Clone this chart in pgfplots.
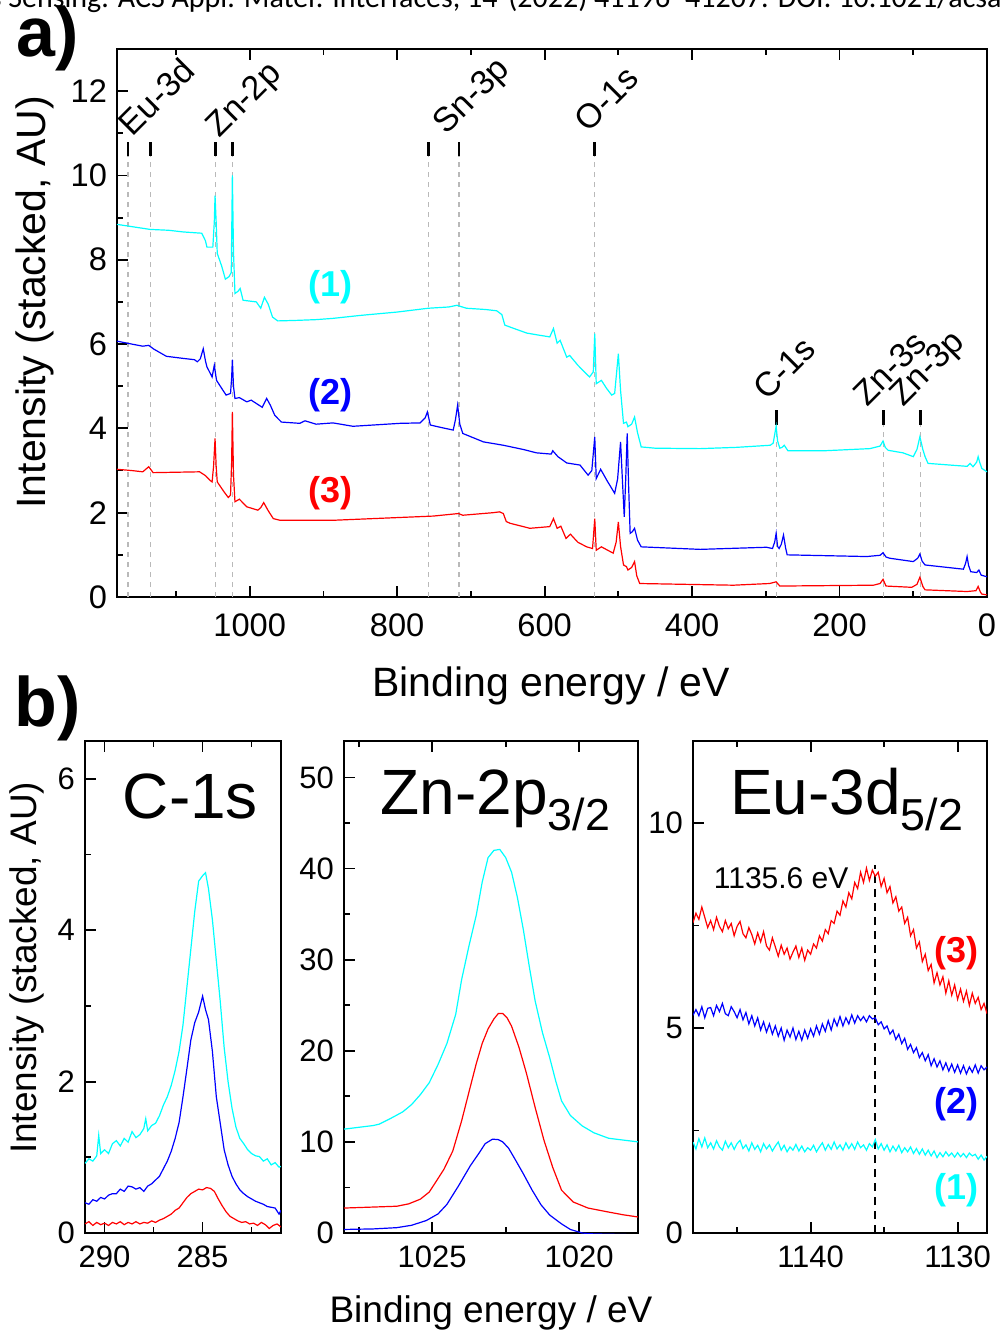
\documentclass[border=0pt]{standalone}
\usepackage{pgfplots}
\pgfplotsset{compat=1.18}
\usepackage{fontspec}
\setmainfont{Liberation Sans}
\newfontfamily\cit{Carlito}
\definecolor{cyn}{RGB}{0,255,255}
\definecolor{blu}{RGB}{0,0,255}
\definecolor{rd}{RGB}{255,0,0}

\pgfplotstableread{
x y
1180 8.84
1165 8.80
1150 8.76
1135 8.72
1110 8.70
1090 8.66
1065 8.63
1060 8.45
1058 8.30
1050 8.30
1048 8.9
1047 9.52
1045.5 8.9
1044 8.15
1038 7.85
1033 7.54
1028 7.6
1025 7.7
1023.5 10.0
1022 8.2
1020 7.2
1016 7.25
1013 7.32
1009 7.04
1000 7.02
991 7.0
985 6.85
980 7.11
975 6.95
969 6.64
962 6.55
940 6.56
910 6.58
887 6.61
850 6.68
800 6.76
758 6.85
730 6.88
719 6.92
706 6.85
680 6.82
665 6.79
658 6.70
654 6.45
640 6.36
624 6.26
607 6.21
593 6.17
588 6.37
583 6.02
579 6.09
570 5.69
566 5.73
555 5.50
545 5.32
539 5.22
534 5.34
532 6.25
530 5.06
523 5.14
516 4.95
509 4.79
505 4.83
500 5.77
497 4.9
493 4.12
489 4.15
487 4.04
482 4.1
478 4.27
474 3.9
469 3.56
450 3.53
389 3.52
340 3.55
294 3.60
290 3.65
287.5 3.9
286 4.05
284 3.7
281 3.53
278 3.55
275 3.60
270 3.47
220 3.47
159 3.52
145 3.58
141 3.70
138 3.55
134 3.48
114 3.42
100 3.33
95 3.5
91 3.80
87 3.5
84 3.33
80 3.17
50 3.13
27 3.10
23 3.17
19 3.09
14 3.2
12 3.33
10 3.2
7 3.05
0 2.97
}\surveyA

\pgfplotstableread{
x y
1180 6.07
1160 6.00
1145 5.95
1137 5.97
1130 5.88
1113 5.71
1090 5.66
1075 5.63
1071 5.58
1067 5.65
1063 5.89
1060 5.6
1058 5.46
1051 5.22
1048 5.50
1045 5.14
1038 4.95
1032 4.79
1026 4.83
1024.5 5.2
1023.5 5.63
1022 5.0
1020 4.71
1014 4.73
1004 4.63
998 4.67
990 4.58
983 4.50
977 4.71
972 4.55
966 4.31
957 4.15
932 4.12
925 4.18
910 4.10
887 4.13
860 4.05
796 4.12
769 4.13
762 4.25
759 4.39
755 4.08
740 4.02
724 3.96
721 4.2
718 4.55
715 4.1
711 3.88
683 3.68
656 3.60
629 3.50
611 3.42
591 3.39
589 3.47
582 3.33
570 3.18
552 3.13
541 2.89
536 3.0
532 3.80
530 2.81
524 3.03
515 2.75
505 2.46
501 2.8
497 3.68
494 2.6
492 1.90
490 2.8
488 3.88
486 2.6
484 1.51
481 1.55
478 1.63
474 1.35
469 1.19
389 1.13
299 1.18
291 1.15
288 1.3
286 1.51
284 1.2
282 1.15
279 1.25
276 1.47
273 1.15
271 1.00
163 0.96
145 0.99
141 1.05
137 0.95
132 0.92
100 0.84
94 0.92
91 1.02
88 0.85
84 0.76
32 0.66
29 0.8
27 0.96
25 0.75
22 0.60
14 0.58
11 0.64
8 0.52
0 0.48
}\surveyB

\pgfplotstableread{
x y
1180 3.03
1160 3.0
1145 2.97
1137 3.09
1131 2.95
1100 2.96
1068 2.97
1060 2.88
1054 2.77
1051 2.73
1049 3.1
1047 3.76
1045.5 3.1
1044 2.73
1035 2.50
1029 2.36
1026 2.42
1024.5 3.2
1023.5 4.39
1022 2.9
1020 2.26
1014 2.32
1004 2.14
989 2.06
985 2.12
981 2.24
975 2.05
968 1.86
959 1.82
887 1.82
751 1.92
717 1.98
711 1.94
670 2.0
661 2.02
656 1.98
652 1.79
647 1.75
620 1.63
593 1.67
588 1.86
583 1.63
578 1.68
571 1.39
565 1.49
555 1.3
543 1.19
535 1.15
532 1.86
530 1.11
523 1.19
507 1.04
503 1.3
500 1.78
497 1.2
493 0.76
489 0.72
487 0.64
482 0.7
478 0.84
475 0.5
471 0.32
344 0.28
295 0.32
286 0.36
281 0.26
154 0.28
145 0.32
141 0.42
137 0.26
102 0.23
95 0.3
91 0.47
87 0.25
84 0.17
27 0.13
15 0.15
12 0.25
9 0.12
7 0.07
0 0.05
}\surveyC

\pgfplotstableread{
x y
291.0 0.92
290.8 0.98
290.6 0.95
290.4 1.02
290.3 1.29
290.2 1.05
290.0 1.10
289.8 1.05
289.6 1.18
289.4 1.22
289.2 1.15
289.0 1.25
288.8 1.20
288.6 1.34
288.4 1.26
288.2 1.30
288.0 1.38
287.9 1.51
287.8 1.35
287.6 1.42
287.4 1.45
287.2 1.55
287.0 1.69
286.8 1.80
286.6 1.95
286.4 2.15
286.2 2.40
286.0 2.75
285.8 3.25
285.6 3.75
285.4 4.25
285.2 4.65
285.0 4.72
284.85 4.76
284.7 4.55
284.5 4.14
284.3 3.60
284.1 3.06
283.9 2.45
283.7 2.00
283.5 1.65
283.3 1.40
283.1 1.25
282.9 1.18
282.7 1.10
282.5 1.05
282.3 1.02
282.1 1.01
281.9 0.95
281.7 0.98
281.5 0.90
281.3 0.93
281.1 0.87
281.0 0.88
}\cA

\pgfplotstableread{
x y
291.0 0.40
290.8 0.38
290.6 0.44
290.4 0.42
290.2 0.47
290.0 0.45
289.8 0.50
289.6 0.52
289.4 0.52
289.2 0.58
289.0 0.55
288.8 0.62
288.6 0.61
288.4 0.58
288.2 0.60
288.0 0.55
287.8 0.62
287.6 0.65
287.4 0.70
287.2 0.75
287.0 0.85
286.8 0.95
286.6 1.08
286.4 1.25
286.2 1.46
286.0 1.80
285.8 2.17
285.6 2.55
285.4 2.78
285.2 2.92
285.0 3.13
284.85 2.95
284.7 2.82
284.5 2.40
284.3 1.80
284.1 1.45
283.9 1.10
283.7 0.90
283.5 0.75
283.3 0.65
283.1 0.57
282.9 0.52
282.7 0.48
282.5 0.45
282.3 0.42
282.1 0.40
281.9 0.38
281.7 0.35
281.5 0.34
281.3 0.33
281.1 0.25
281.0 0.30
}\cB

\pgfplotstableread{
x y
291.0 0.12
290.8 0.15
290.6 0.10
290.4 0.14
290.2 0.11
290.0 0.13
289.8 0.10
289.6 0.14
289.4 0.12
289.2 0.15
289.0 0.11
288.8 0.14
288.6 0.12
288.4 0.15
288.2 0.12
288.0 0.14
287.8 0.13
287.6 0.16
287.4 0.14
287.2 0.17
287.0 0.19
286.8 0.22
286.6 0.25
286.4 0.30
286.2 0.33
286.0 0.40
285.8 0.47
285.6 0.52
285.4 0.55
285.2 0.58
285.0 0.57
284.8 0.60
284.6 0.59
284.4 0.55
284.2 0.45
284.0 0.36
283.8 0.28
283.6 0.22
283.4 0.19
283.2 0.16
283.0 0.14
282.8 0.15
282.6 0.12
282.4 0.13
282.2 0.10
282.0 0.14
281.8 0.11
281.6 0.06
281.4 0.10
281.2 0.12
281.0 0.08
}\cC

\pgfplotstableread{
x y
1028.0 11.4
1027.5 11.6
1027.0 11.8
1026.8 11.95
1026.4 12.6
1026.0 13.3
1025.7 14.1
1025.4 15.2
1025.1 16.5
1024.8 18.5
1024.5 20.8
1024.2 24.0
1024.0 27.8
1023.75 31.5
1023.5 34.9
1023.3 38.5
1023.1 41.2
1022.9 42.0
1022.7 42.1
1022.5 41.2
1022.3 39.6
1022.1 36.8
1021.9 33.3
1021.7 29.3
1021.5 25.5
1021.25 22.0
1021.0 19.2
1020.8 16.7
1020.6 14.5
1020.3 12.9
1019.9 11.76
1019.5 11.0
1019.0 10.4
1018.5 10.2
1018.0 10.0
}\zA

\pgfplotstableread{
x y
1028.0 2.74
1027.0 2.85
1026.2 2.94
1025.8 3.2
1025.4 3.72
1025.1 4.5
1024.9 5.49
1024.6 7.0
1024.3 9.0
1024.0 12.3
1023.7 16.1
1023.5 18.6
1023.3 20.8
1023.1 22.4
1022.9 23.5
1022.75 24.1
1022.6 24.1
1022.45 23.6
1022.3 22.7
1022.05 20.4
1021.8 17.6
1021.5 13.8
1021.2 10.2
1020.9 7.2
1020.6 4.7
1020.2 3.4
1019.7 2.74
1019.0 2.3
1018.5 2.0
1018.0 1.76
}\zC

\pgfplotstableread{
x y
1028.0 0.39
1027.0 0.45
1026.2 0.59
1025.7 0.85
1025.2 1.37
1024.8 2.1
1024.5 3.14
1024.1 5.2
1023.7 7.4
1023.4 8.8
1023.2 9.8
1022.95 10.3
1022.75 10.25
1022.6 10.0
1022.4 9.3
1022.2 8.2
1021.9 6.5
1021.6 4.7
1021.3 3.1
1021.0 1.96
1020.6 1.0
1020.3 0.39
1019.9 0.0
1019.5 -0.1
1018.0 -0.2
}\zB

\pgfplotstableread{
x y
1148.0 7.57
1147.8 7.80
1147.6 7.65
1147.4 7.95
1147.2 7.70
1147.0 7.45
1146.8 7.62
1146.6 7.40
1146.4 7.70
1146.2 7.48
1146.0 7.35
1145.8 7.62
1145.6 7.42
1145.4 7.55
1145.2 7.25
1145.0 7.48
1144.8 7.60
1144.6 7.30
1144.4 7.20
1144.2 7.45
1144.0 7.28
1143.8 7.05
1143.6 7.32
1143.4 7.10
1143.2 7.35
1143.0 7.00
1142.8 6.90
1142.6 7.20
1142.4 6.98
1142.2 6.75
1142.0 7.02
1141.8 6.80
1141.6 6.95
1141.4 6.68
1141.2 6.85
1141.0 7.00
1140.8 6.72
1140.6 6.95
1140.4 6.65
1140.2 6.90
1140.0 6.80
1139.8 7.05
1139.6 6.95
1139.4 7.25
1139.2 7.12
1139.0 7.40
1138.8 7.30
1138.6 7.62
1138.4 7.55
1138.2 7.85
1138.0 7.75
1137.8 8.10
1137.6 7.95
1137.4 8.30
1137.2 8.15
1137.0 8.55
1136.8 8.40
1136.6 8.80
1136.4 8.55
1136.2 8.90
1136.0 8.60
1135.8 8.85
1135.6 8.70
1135.4 8.80
1135.2 8.45
1135.0 8.65
1134.8 8.30
1134.6 8.45
1134.4 8.05
1134.2 8.20
1134.0 7.85
1133.8 7.95
1133.6 7.55
1133.4 7.70
1133.2 7.25
1133.0 7.40
1132.8 6.95
1132.6 7.10
1132.4 6.62
1132.2 6.80
1132.0 6.40
1131.8 6.55
1131.6 6.10
1131.4 6.35
1131.2 6.05
1131.0 6.25
1130.8 5.85
1130.6 6.15
1130.4 5.80
1130.2 6.05
1130.0 5.70
1129.8 5.95
1129.6 5.65
1129.4 5.90
1129.2 5.55
1129.0 5.85
1128.8 5.60
1128.6 5.75
1128.4 5.45
1128.2 5.60
1128.0 5.35
}\eC

\pgfplotstableread{
x y
1148.0 5.31
1147.8 5.45
1147.6 5.30
1147.4 5.52
1147.2 5.25
1147.0 5.48
1146.8 5.50
1146.6 5.30
1146.4 5.55
1146.2 5.40
1146.0 5.60
1145.8 5.35
1145.6 5.30
1145.4 5.52
1145.2 5.40
1145.0 5.25
1144.8 5.45
1144.6 5.20
1144.4 5.38
1144.2 5.10
1144.0 5.30
1143.8 5.05
1143.6 5.25
1143.4 4.95
1143.2 5.15
1143.0 4.90
1142.8 5.10
1142.6 4.85
1142.4 5.05
1142.2 4.80
1142.0 5.00
1141.8 4.70
1141.6 4.95
1141.4 4.78
1141.2 5.00
1141.0 4.72
1140.8 4.92
1140.6 4.70
1140.4 4.95
1140.2 4.75
1140.0 4.98
1139.8 4.80
1139.6 5.05
1139.4 4.85
1139.2 5.10
1139.0 4.92
1138.8 5.18
1138.6 4.95
1138.4 5.22
1138.2 5.05
1138.0 5.28
1137.8 5.05
1137.6 5.25
1137.4 5.10
1137.2 5.32
1137.0 5.12
1136.8 5.30
1136.6 5.18
1136.4 5.28
1136.2 5.15
1136.0 5.30
1135.8 5.22
1135.6 5.25
1135.4 5.08
1135.2 5.15
1135.0 4.98
1134.8 5.05
1134.6 4.85
1134.4 4.95
1134.2 4.72
1134.0 4.85
1133.8 4.62
1133.6 4.75
1133.4 4.48
1133.2 4.60
1133.0 4.40
1132.8 4.52
1132.6 4.28
1132.4 4.40
1132.2 4.20
1132.0 4.35
1131.8 4.08
1131.6 4.25
1131.4 4.05
1131.2 4.20
1131.0 3.98
1130.8 4.15
1130.6 3.95
1130.4 4.12
1130.2 3.92
1130.0 4.10
1129.8 3.90
1129.6 4.08
1129.4 3.88
1129.2 4.05
1129.0 3.92
1128.8 4.10
1128.6 3.90
1128.4 4.08
1128.2 3.98
1128.0 4.05
}\eB

\pgfplotstableread{
x y
1148.0 2.22
1147.8 2.05
1147.6 2.30
1147.4 2.10
1147.2 2.32
1147.0 2.08
1146.8 2.20
1146.6 2.05
1146.4 2.25
1146.2 2.10
1146.0 2.02
1145.8 2.24
1145.6 2.08
1145.4 2.20
1145.2 2.04
1145.0 2.18
1144.8 2.26
1144.6 2.06
1144.4 2.15
1144.2 2.00
1144.0 2.20
1143.8 2.04
1143.6 2.14
1143.4 1.98
1143.2 2.18
1143.0 2.05
1142.8 2.15
1142.6 2.00
1142.4 2.12
1142.2 2.22
1142.0 2.02
1141.8 2.14
1141.6 1.98
1141.4 2.10
1141.2 2.02
1141.0 2.16
1140.8 2.00
1140.6 2.12
1140.4 1.98
1140.2 2.08
1140.0 2.02
1139.8 2.14
1139.6 1.98
1139.4 2.10
1139.2 2.20
1139.0 2.02
1138.8 2.16
1138.6 2.04
1138.4 2.22
1138.2 2.05
1138.0 2.15
1137.8 2.02
1137.6 2.20
1137.4 2.06
1137.2 2.18
1137.0 2.04
1136.8 2.22
1136.6 2.08
1136.4 2.15
1136.2 2.02
1136.0 2.18
1135.8 2.10
1135.6 2.28
1135.4 2.05
1135.2 2.18
1135.0 2.02
1134.8 2.15
1134.6 1.98
1134.4 2.12
1134.2 2.00
1134.0 2.14
1133.8 1.96
1133.6 2.08
1133.4 1.98
1133.2 2.10
1133.0 1.94
1132.8 2.06
1132.6 1.92
1132.4 2.05
1132.2 1.90
1132.0 2.02
1131.8 1.88
1131.6 2.00
1131.4 1.84
1131.2 1.96
1131.0 1.86
1130.8 1.98
1130.6 1.88
1130.4 1.95
1130.2 1.85
1130.0 1.96
1129.8 1.86
1129.6 1.94
1129.4 1.84
1129.2 1.95
1129.0 1.88
1128.8 1.92
1128.6 1.80
1128.4 1.90
1128.2 1.78
1128.0 1.87
}\eA

\pgfplotsset{
  xps/.style={
    scale only axis, anchor=south west, x dir=reverse,
    axis line style={line width=1.1pt},
    tick style={line width=0.9pt, black},
    tick align=inside, xtick pos=both, ytick pos=left,
    major tick length=5.5pt, minor tick length=3pt,
    /pgf/number format/assume math mode=true,
    /pgf/number format/1000 sep={},
    every axis plot/.append style={line width=0.6pt, no markers},
  },
}

\begin{document}
\begin{tikzpicture}
\useasboundingbox (0,0) rectangle (500pt,-666.5pt);

\node[anchor=base east, inner sep=0pt] at (249pt,-3.5pt) {\cit\fontsize{15}{18}\selectfont s Sensing. ACS Appl. Mater. Interfaces, 14};
\node[anchor=base west, inner sep=0pt] at (254pt,-3.5pt) {\cit\fontsize{15}{18}\selectfont (2022) 41196–41207. DOI: 10.1021/acsami};

\node[inner sep=0pt] at (24pt,-19pt) {\fontsize{35}{38}\selectfont\bfseries a)};
\node[inner sep=0pt] at (24pt,-354pt) {\fontsize{35}{38}\selectfont\bfseries b)};

% ---------------- panel a
\begin{axis}[xps,
  at={(58.5pt,-298.5pt)}, width=435pt, height=274pt,
  xmin=0, xmax=1180, ymin=0, ymax=13,
  xtick={0,200,...,1000}, minor xtick={100,300,...,1100},
  ytick={0,2,...,12}, minor ytick={1,3,...,11},
  tick label style={font=\fontsize{16.3}{18}\selectfont},
  xticklabel shift=5pt, yticklabel shift=1.5pt,
  xlabel={Binding energy / eV}, ylabel={Intensity (stacked, AU)},
  label style={font=\fontsize{20.5}{24}\selectfont},
  xlabel style={at={(axis description cs:0.499,-0.162)}, anchor=center},
  ylabel style={at={(axis description cs:-0.094,0.538)}, anchor=center},
]
% reference lines
\foreach \e in {1165,1135,1046,1023,758,716,532} {
  \edef\tmp{\noexpand\draw[gray!55, dash pattern=on 2.5pt off 2.5pt, line width=0.6pt] (axis cs:\e,0) -- (axis cs:\e,10.47);
  \noexpand\draw[black, line width=1.4pt] (axis cs:\e,10.47) -- (axis cs:\e,10.8);}\tmp
}
\foreach \e in {286,140,90} {
  \edef\tmp{\noexpand\draw[gray!55, dash pattern=on 2.5pt off 2.5pt, line width=0.6pt] (axis cs:\e,0) -- (axis cs:\e,4.08);
  \noexpand\draw[black, line width=1.4pt] (axis cs:\e,4.08) -- (axis cs:\e,4.43);}\tmp
}
\addplot[cyn] table {\surveyA};
\addplot[blu] table {\surveyB};
\addplot[rd] table {\surveyC};
\begin{scope}[every node/.style={rotate=45, anchor=base west, inner sep=0pt, font=\fontsize{17}{20}\selectfont}]
\node at (axis cs:1159,10.9) {Eu-3d};
\node at (axis cs:1041,10.88) {Zn-2p};
\node at (axis cs:733,10.95) {Sn-3p};
\node at (axis cs:541,11.0) {O-1s};
\node at (axis cs:298.5,4.62) {C-1s};
\node at (axis cs:163,4.5) {Zn-3s};
\node at (axis cs:114,4.5) {Zn-3p};
\end{scope}
\node[cyn, font=\fontsize{18}{20}\selectfont\bfseries] at (axis cs:890.5,7.35) {(1)};
\node[blu, font=\fontsize{18}{20}\selectfont\bfseries] at (axis cs:890.5,4.79) {(2)};
\node[rd, font=\fontsize{18}{20}\selectfont\bfseries] at (axis cs:890.5,2.46) {(3)};
\end{axis}

% ---------------- panel b: C-1s
\begin{axis}[xps,
  at={(42.5pt,-616.5pt)}, width=98pt, height=246pt,
  xmin=281, xmax=291, ymin=0, ymax=6.5,
  xtick={285,290}, minor xtick={282.5,287.5},
  ytick={0,2,4,6}, minor ytick={1,3,5},
  tick label style={font=\fontsize{15.5}{18}\selectfont},
  xticklabel shift=3pt, yticklabel shift=1.5pt,
  ylabel={Intensity (stacked, AU)},
  label style={font=\fontsize{18.5}{22}\selectfont},
  ylabel style={at={(axis description cs:-0.296,0.539)}, anchor=center},
]
\addplot[cyn] table {\cA};
\addplot[blu] table {\cB};
\addplot[rd] table {\cC};
\node[anchor=base, inner sep=0pt, font=\fontsize{32}{36}\selectfont] at (rel axis cs:0.538,0.843) {C-1s};
\end{axis}

% ---------------- panel b: Zn-2p
\begin{axis}[xps,
  at={(172pt,-616.5pt)}, width=147pt, height=246pt,
  xmin=1018, xmax=1028, ymin=0, ymax=54,
  xtick={1020,1025}, minor xtick={1022.5,1027.5},
  ytick={0,10,...,50}, minor ytick={5,15,...,45},
  tick label style={font=\fontsize{15.5}{18}\selectfont},
  xticklabel shift=3pt, yticklabel shift=1.5pt,
]
\addplot[cyn] table {\zA};
\addplot[rd] table {\zC};
\addplot[blu] table {\zB};
\node[anchor=base, inner sep=0pt, font=\fontsize{32}{36}\selectfont] at (rel axis cs:0.517,0.85) {Zn-2p\textsubscript{3/2}};
\end{axis}

% ---------------- panel b: Eu-3d
\begin{axis}[xps,
  at={(346.5pt,-616.5pt)}, width=147pt, height=246pt,
  xmin=1128, xmax=1148, ymin=0, ymax=12,
  xtick={1130,1140}, minor xtick={1135,1145},
  ytick={0,5,10}, minor ytick={2.5,7.5},
  tick label style={font=\fontsize{15.5}{18}\selectfont},
  xticklabel shift=3pt, yticklabel shift=1.5pt,
]
\draw[black, line width=1pt, dash pattern=on 4pt off 3pt] (axis cs:1135.6,0) -- (axis cs:1135.6,8.97);
\addplot[cyn] table {\eA};
\addplot[blu] table {\eB};
\addplot[rd] table {\eC};
\node[anchor=base, inner sep=0pt, font=\fontsize{32}{36}\selectfont] at (rel axis cs:0.524,0.85) {Eu-3d\textsubscript{5/2}};
\node[anchor=east, inner sep=0pt, font=\fontsize{15}{18}\selectfont] at (axis cs:1137.4,8.66) {1135.6 eV};
\node[rd, font=\fontsize{18}{20}\selectfont\bfseries] at (axis cs:1130.05,6.83) {(3)};
\node[blu, font=\fontsize{18}{20}\selectfont\bfseries] at (axis cs:1130.05,3.13) {(2)};
\node[cyn, font=\fontsize{18}{20}\selectfont\bfseries] at (axis cs:1130.05,1.05) {(1)};
\end{axis}

\node[font=\fontsize{18.5}{22}\selectfont] at (245.5pt,-656.5pt) {Binding energy / eV};
\end{tikzpicture}
\end{document}
